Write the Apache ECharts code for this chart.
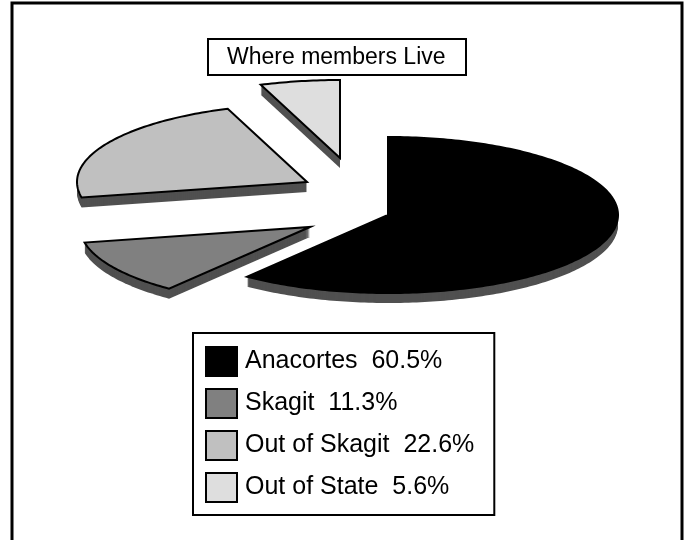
<!DOCTYPE html>
<html lang="en">
<head>
<meta charset="utf-8">
<title>Where members Live</title>
<script src="https://cdn.jsdelivr.net/npm/echarts@6/dist/echarts.min.js"></script>
<style>
  html, body { margin: 0; padding: 0; background: #fff; }
  #chart { width: 688px; height: 540px; }
</style>
</head>
<body>
<div id="chart"></div>
<script>
// data
var categories = ['Anacortes', 'Skagit', 'Out of Skagit', 'Out of State'];
var shares = [60.5, 11.3, 22.6, 5.6];

// look of the tilted, exploded pie
var sliceColors = ['#000000', '#808080', '#c0c0c0', '#dedede'];
var pieCenter = [388, 215];
var pieRadius = [230, 78];           // x radius, y radius (flattened)
var explode = [[0, 0], [-78, 12], [-81, -33], [-48, -57]];
var depth = 10;                      // shadow / thickness below the slices
var font = 'Liberation Sans, Arial, sans-serif';

var total = shares.reduce(function (a, b) { return a + b; }, 0);
var startAngles = [];
var acc = 0;
shares.forEach(function (v) {
    startAngles.push(acc / total * 360);
    acc += v;
});

// angles run clockwise from 12 o'clock
function slicePoints(idx, value, dy) {
    var a0 = startAngles[idx];
    var a1 = a0 + value / total * 360;
    var cx = pieCenter[0] + explode[idx][0];
    var cy = pieCenter[1] + explode[idx][1] + dy;
    var pts = [[cx, cy]];
    var steps = Math.max(2, Math.ceil(a1 - a0));
    for (var i = 0; i <= steps; i++) {
        var a = (a0 + (a1 - a0) * i / steps) * Math.PI / 180;
        pts.push([cx + pieRadius[0] * Math.sin(a), cy - pieRadius[1] * Math.cos(a)]);
    }
    return pts;
}

function renderSlice(idx) {
    return function (params, api) {
        var value = api.value(0);
        var children = [];
        for (var d = depth; d >= 1; d--) {
            children.push({
                type: 'polygon',
                silent: true,
                z2: 1,
                shape: { points: slicePoints(idx, value, d) },
                style: { fill: '#505050' }
            });
        }
        children.push({
            type: 'polygon',
            z2: 10,
            shape: { points: slicePoints(idx, value, 0) },
            style: { fill: api.visual('color'), stroke: '#000', lineWidth: 2 }
        });
        return { type: 'group', children: children };
    };
}

var chart = echarts.init(document.getElementById('chart'));
var option = {
    animation: false,
    backgroundColor: '#fff',
    title: {
        text: 'Where members Live',
        left: 208,
        top: 39,
        padding: [7, 21, 6, 19],
        borderColor: '#000',
        borderWidth: 2,
        backgroundColor: '#fff',
        textStyle: { fontFamily: font, fontSize: 23, fontWeight: 'normal', color: '#000' }
    },
    legend: {
        orient: 'vertical',
        left: 193,
        top: 333,
        padding: [13, 20, 12, 12],
        borderColor: '#000',
        borderWidth: 2,
        backgroundColor: '#fff',
        icon: 'rect',
        itemWidth: 31,
        itemHeight: 29,
        itemGap: 11,
        itemStyle: { borderColor: '#000', borderWidth: 2 },
        textStyle: { fontFamily: font, fontSize: 25, lineHeight: 29, color: '#000', padding: [0, 0, 0, 3] },
        data: categories,
        formatter: function (name) {
            var i = categories.indexOf(name);
            return name + '  ' + shares[i].toFixed(1) + '%';
        }
    },
    graphic: [{
        type: 'rect',
        silent: true,
        shape: { x: 12, y: 3, width: 670, height: 545 },
        style: { fill: null, stroke: '#000', lineWidth: 3 }
    }],
    series: categories.map(function (name, i) {
        return {
            type: 'custom',
            name: name,
            coordinateSystem: 'none',
            itemStyle: { color: sliceColors[i] },
            data: [[shares[i]]],
            renderItem: renderSlice(i)
        };
    })
};
chart.setOption(option);
</script>
</body>
</html>
